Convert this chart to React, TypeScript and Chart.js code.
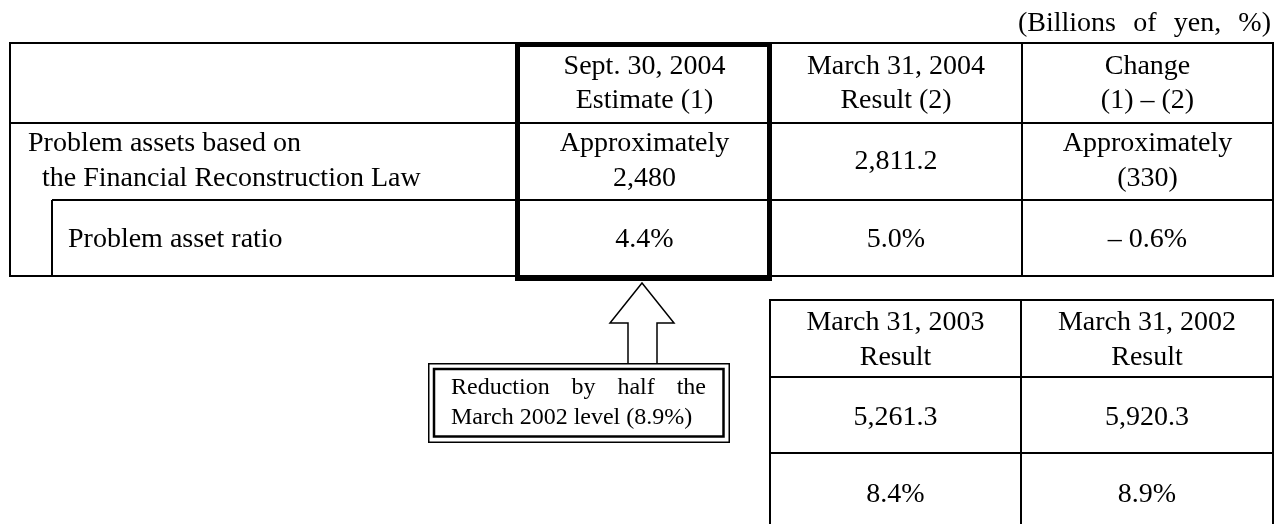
import React, { useEffect, useRef } from "react";
import { Chart, registerables } from "chart.js";

Chart.register(...registerables);

// ---------- data ----------
const unitWords = ["(Billions", "of", "yen,", "%)"];
const columnHeaders = [
  ["Sept. 30, 2004", "Estimate (1)"],
  ["March 31, 2004", "Result (2)"],
  ["Change", "(1) – (2)"],
];
const assetLabel = ["Problem assets based on", "the Financial Reconstruction Law"];
const ratioLabel = "Problem asset ratio";
const assetValues = [["Approximately", "2,480"], ["2,811.2"], ["Approximately", "(330)"]];
const ratioValues = ["4.4%", "5.0%", "– 0.6%"];
const pastHeaders = [
  ["March 31, 2003", "Result"],
  ["March 31, 2002", "Result"],
];
const pastAssets = ["5,261.3", "5,920.3"];
const pastRatios = ["8.4%", "8.9%"];
const noteJustified = ["Reduction", "by", "half", "the"];
const noteLast = "March 2002 level (8.9%)";

const W = 1275;
const H = 524;
const FONT = '"Liberation Serif", "Times New Roman", serif';

const tablePlugin = {
  id: "tablePlugin",
  afterDraw(chart: any) {
    const ctx: CanvasRenderingContext2D = chart.ctx;
    const sx = chart.scales.x;
    const sy = chart.scales.y;
    const X = (v: number) => sx.getPixelForValue(v);
    const Y = (v: number) => sy.getPixelForValue(v);

    ctx.save();
    ctx.fillStyle = "#ffffff";
    ctx.fillRect(0, 0, W, H);
    ctx.strokeStyle = "#000";
    ctx.fillStyle = "#000";
    ctx.lineCap = "butt";

    const line = (x1: number, y1: number, x2: number, y2: number, lw = 2) => {
      ctx.lineWidth = lw;
      ctx.beginPath();
      ctx.moveTo(X(x1), Y(y1));
      ctx.lineTo(X(x2), Y(y2));
      ctx.stroke();
    };
    const text = (s: string, x: number, y: number, size: number, align: CanvasTextAlign = "center") => {
      ctx.font = `${size}px ${FONT}`;
      ctx.textAlign = align;
      ctx.textBaseline = "middle";
      ctx.fillText(s, X(x), Y(y));
    };
    const justify = (words: string[], x1: number, x2: number, y: number, size: number) => {
      ctx.font = `${size}px ${FONT}`;
      ctx.textAlign = "left";
      ctx.textBaseline = "middle";
      const widths = words.map((w) => ctx.measureText(w).width);
      const total = widths.reduce((a, b) => a + b, 0);
      const gap = (X(x2) - X(x1) - total) / (words.length - 1);
      let cx = X(x1);
      words.forEach((w, i) => {
        ctx.fillText(w, cx, Y(y));
        cx += widths[i] + gap;
      });
    };

    const FS = 28;
    // unit label
    justify(unitWords, 1018, 1271, 24, FS);

    // ---- main table ----
    const L = 10, C1 = 517, C2 = 770, C3 = 1022, R = 1273;
    const T = 43, HR = 123, R2 = 200, B = 276;
    line(L, T, R, T);
    line(L, HR, R, HR);
    line(52, R2, R, R2);
    line(L, B, R, B);
    line(L, T - 1, L, B + 1);
    line(R, T - 1, R, B + 1);
    line(52, R2, 52, B);
    line(C2, T, C2, B);
    line(C3, T, C3, B);

    const centers = [(C1 + C2) / 2 + 1, (C2 + C3) / 2, (C3 + R) / 2];
    columnHeaders.forEach((lines, i) => {
      text(lines[0], centers[i], 67, FS);
      text(lines[1], centers[i], 101, FS);
    });
    assetValues.forEach((lines, i) => {
      if (lines.length === 2) {
        text(lines[0], centers[i], 144, FS);
        text(lines[1], centers[i], 179, FS);
      } else {
        text(lines[0], centers[i], 162, FS);
      }
    });
    ratioValues.forEach((v, i) => text(v, centers[i], 240, FS));
    text(assetLabel[0], 28, 144, FS, "left");
    text(assetLabel[1], 42, 179, FS, "left");
    text(ratioLabel, 68, 240, FS, "left");

    // thick highlight box
    ctx.lineWidth = 5;
    ctx.strokeRect(X(517.5), Y(44.5), X(769.5) - X(517.5), Y(278.5) - Y(44.5));

    // ---- arrow ----
    ctx.lineWidth = 1.5;
    ctx.fillStyle = "#fff";
    ctx.beginPath();
    ctx.moveTo(X(642), Y(283));
    ctx.lineTo(X(674), Y(323));
    ctx.lineTo(X(657), Y(323));
    ctx.lineTo(X(657), Y(366));
    ctx.lineTo(X(628), Y(366));
    ctx.lineTo(X(628), Y(323));
    ctx.lineTo(X(610), Y(323));
    ctx.closePath();
    ctx.fill();
    ctx.stroke();

    // ---- note box ----
    ctx.fillStyle = "#fff";
    ctx.fillRect(X(428), Y(363), X(730) - X(428), Y(443) - Y(363));
    ctx.lineWidth = 1.5;
    ctx.strokeRect(X(428.75), Y(363.75), X(729.25) - X(428.75), Y(442.25) - Y(363.75));
    ctx.lineWidth = 2.5;
    ctx.strokeRect(X(434), Y(369), X(723.5) - X(434), Y(436.5) - Y(369));
    ctx.fillStyle = "#000";
    justify(noteJustified, 451, 706, 388, 24);
    text(noteLast, 451, 418, 24, "left");

    // ---- past results table ----
    const PL = 770, PM = 1021, PR = 1273;
    const PT = 300, P1 = 377, P2 = 453;
    line(PL, PT, PR, PT);
    line(PL, P1, PR, P1);
    line(PL, P2, PR, P2);
    line(PL, PT - 1, PL, H);
    line(PM, PT, PM, H);
    line(PR, PT - 1, PR, H);
    const pc = [(PL + PM) / 2, (PM + PR) / 2];
    pastHeaders.forEach((lines, i) => {
      text(lines[0], pc[i], 323, FS);
      text(lines[1], pc[i], 358, FS);
    });
    pastAssets.forEach((v, i) => text(v, pc[i], 418, FS));
    pastRatios.forEach((v, i) => text(v, pc[i], 495, FS));

    ctx.restore();
  },
};

export default function App() {
  const ref = useRef<HTMLCanvasElement | null>(null);
  useEffect(() => {
    if (!ref.current) return;
    const chart = new Chart(ref.current, {
      type: "scatter",
      data: { datasets: [{ data: [], pointRadius: 0 }] },
      options: {
        animation: false,
        responsive: false,
        devicePixelRatio: 1,
        layout: { padding: 0 },
        plugins: { legend: { display: false }, tooltip: { enabled: false }, title: { display: false } },
        scales: {
          x: { type: "linear", min: 0, max: W, display: false },
          y: { type: "linear", min: 0, max: H, reverse: true, display: false },
        },
      },
      plugins: [tablePlugin],
    });
    return () => chart.destroy();
  }, []);
  return (
    <div style={{ position: "absolute", left: 0, top: 0, width: W, height: H, background: "#fff" }}>
      <canvas ref={ref} width={W} height={H} style={{ width: W, height: H, display: "block" }} />
    </div>
  );
}
